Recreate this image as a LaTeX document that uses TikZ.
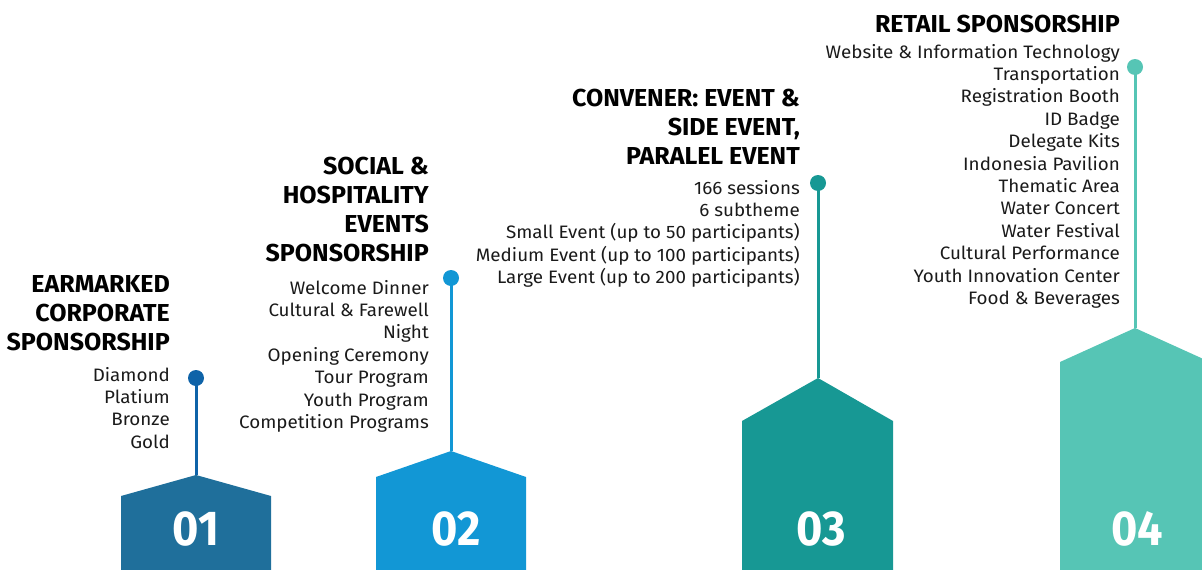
\documentclass[tikz,border=0pt]{standalone}
\usepackage{fontspec}
\setmainfont{Fira Sans}[FakeStretch=1.045]
\newfontfamily\titlefont{Fira Sans}[FakeStretch=1.02]
\newfontfamily\numfont{Fira Sans}[FakeStretch=0.92]
\definecolor{sh1}{HTML}{1F6F9B}
\definecolor{ln1}{HTML}{0F63A8}
\definecolor{sh2}{HTML}{1297D5}
\definecolor{sh3}{HTML}{179894}
\definecolor{sh4}{HTML}{56C5B5}
\definecolor{txt}{HTML}{1A1A1A}
\newcommand{\ttl}[1]{{\titlefont\fontsize{24.5}{29}\selectfont\bfseries\begin{tabular}[t]{@{}r@{}}#1\end{tabular}}}
\newcommand{\bdy}[1]{{\fontsize{18}{22.4}\selectfont\begin{tabular}[t]{@{}r@{}}#1\end{tabular}}}
\begin{document}
\begin{tikzpicture}[x=1pt,y=-1pt,
  titlebox/.style={anchor=base east,inner sep=0pt,text=black},
  bodybox/.style={anchor=base east,inner sep=0pt,text=txt},
  dotnode/.style={circle,inner sep=0pt,minimum size=16pt,fill=#1},
  stem/.style={line width=3pt,draw=#1},
  numlabel/.style={anchor=base,inner sep=0pt,text=white,font=\numfont\fontsize{49}{49}\selectfont\bfseries}]
\useasboundingbox (0,0) rectangle (1202,570);
% pentagons
\fill[sh1] (121,570) -- (121,496) -- (196,475) coordinate (a1) -- (271,496) -- (271,570) -- cycle;
\fill[sh2] (376,570) -- (376,477) -- (451,451) coordinate (a2) -- (526,477) -- (526,570) -- cycle;
\fill[sh3] (742,570) -- (742,421) -- (818,378) coordinate (a3) -- (893,421) -- (893,570) -- cycle;
\begin{scope}
\clip (0,0) rectangle (1202,570);
\fill[sh4] (1060,570) -- (1060,362) -- (1135,328) coordinate (a4) -- (1210,362) -- (1210,570) -- cycle;
\end{scope}
% dots
\node[dotnode=ln1] (d1) at (196,378) {};
\node[dotnode=sh2] (d2) at (451,278) {};
\node[dotnode=sh3] (d3) at (818,183) {};
\node[dotnode=sh4] (d4) at (1135,67) {};
% stems
\draw[stem=ln1] (d1.center) -- (a1);
\draw[stem=sh2] (d2.center) -- (a2);
\draw[stem=sh3] (d3.center) -- (a3);
\draw[stem=sh4] (d4.center) -- (a4);
% numbers
\node[numlabel] (n1) at (196,545) {01};
\node[numlabel] (n2) at (456,545) {02};
\node[numlabel] (n3) at (821,545) {03};
\node[numlabel] (n4) at (1137,545) {04};
% titles
\node[titlebox] (t1) at (170,292) {\ttl{EARMARKED\\CORPORATE\\SPONSORSHIP}};
\node[titlebox] (t2) at (429,174) {\ttl{SOCIAL \&\\HOSPITALITY\\EVENTS\\SPONSORSHIP}};
\node[titlebox] (t3) at (800,106) {\ttl{CONVENER: EVENT \&\\SIDE EVENT,\\PARALEL EVENT}};
\node[titlebox] (t4) at (1120,32) {\ttl{RETAIL SPONSORSHIP}};
% bodies
\node[bodybox] (b1) at (170,381) {\bdy{Diamond\\Platium\\Bronze\\Gold}};
\node[bodybox] (b2) at (429,294) {\bdy{Welcome Dinner\\Cultural \& Farewell\\Night\\Opening Ceremony\\Tour Program\\Youth Program\\Competition Programs}};
\node[bodybox] (b3) at (800,194) {\bdy{166 sessions\\6 subtheme\\Small Event (up to 50 participants)\\Medium Event (up to 100 participants)\\Large Event (up to 200 participants)}};
\node[bodybox] (b4) at (1120,58) {\bdy{Website \& Information Technology\\Transportation\\Registration Booth\\ID Badge\\Delegate Kits\\Indonesia Pavilion\\Thematic Area\\Water Concert\\Water Festival\\Cultural Performance\\Youth Innovation Center\\Food \& Beverages}};
\end{tikzpicture}
\end{document}
